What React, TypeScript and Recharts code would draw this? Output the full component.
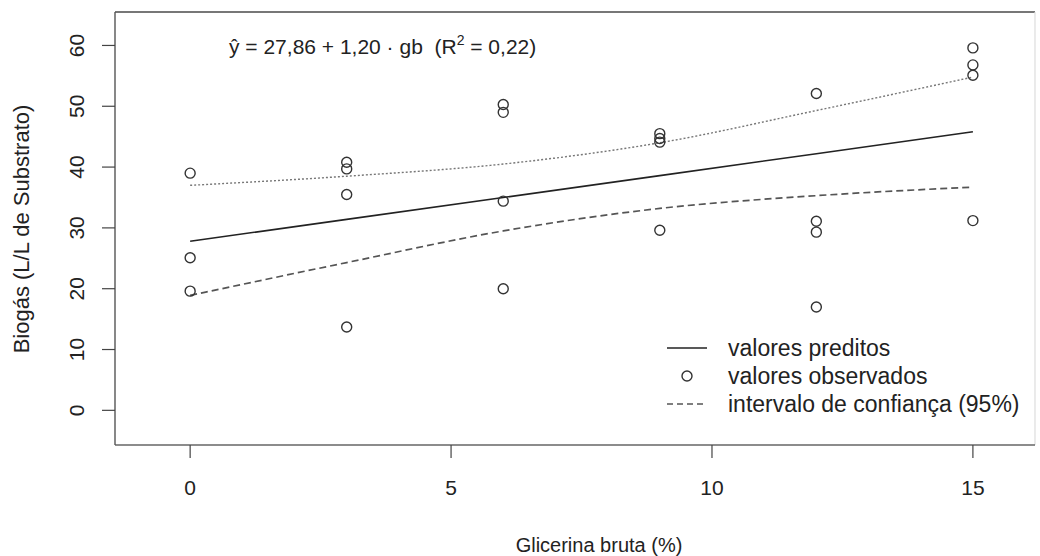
import React from 'react';
import {
  ComposedChart,
  Line,
  Scatter,
  XAxis,
  YAxis,
  ReferenceLine,
  Legend,
} from 'recharts';

// ---- data ----
const xLevels = [0, 3, 6, 9, 12, 15];
const predicted = [27.8, 31.4, 35.0, 38.6, 42.2, 45.8];
const upperCI = [37.0, 38.5, 40.5, 44.0, 49.3, 54.8];
const lowerCI = [18.9, 24.3, 29.5, 33.2, 35.3, 36.7];

const obsX = [0, 0, 0, 3, 3, 3, 3, 6, 6, 6, 6, 9, 9, 9, 9, 12, 12, 12, 12, 15, 15, 15, 15];
const obsY = [39.0, 25.1, 19.6, 40.8, 39.7, 35.5, 13.7, 50.3, 49.0, 34.4, 20.0, 45.5, 44.7, 44.1, 29.6, 52.1, 31.1, 29.3, 17.0, 59.6, 56.8, 55.1, 31.2];

const xTicks = [0, 5, 10, 15];
const yTicks = [0, 10, 20, 30, 40, 50, 60];
const xDomain = [-1.44, 16.19];
const yDomain = [-5.7, 65.5];

const legendLabels = ['valores preditos', 'valores observados', 'intervalo de confiança (95%)'];
const xLabel = 'Glicerina bruta (%)';
const yLabel = 'Biogás (L/L de Substrato)';

const predData = xLevels.map((x, i) => ({ x, y: predicted[i] }));
const upperData = xLevels.map((x, i) => ({ x, y: upperCI[i] }));
const lowerData = xLevels.map((x, i) => ({ x, y: lowerCI[i] }));
const obsData = obsX.map((x, i) => ({ x, y: obsY[i] }));

const FONT = '"Liberation Sans", Arial, Helvetica, sans-serif';
const TEXT = '#222';

const YTick = (props: any) => {
  const { x, y, payload } = props;
  return (
    <text
      x={x}
      y={y}
      transform={`rotate(-90 ${x} ${y})`}
      textAnchor="middle"
      fontSize={21}
      fill={TEXT}
      fontFamily={FONT}
    >
      {payload.value}
    </text>
  );
};

const Circle = (props: any) => {
  const { cx, cy } = props;
  if (cx == null || cy == null) return null;
  return <circle cx={cx} cy={cy} r={5} fill="none" stroke="#333" strokeWidth={1.4} />;
};

const LegendContent = () => (
  <div style={{ fontFamily: FONT, fontSize: 23, color: TEXT }}>
    {legendLabels.map((lab, i) => (
      <div key={lab} style={{ display: 'flex', alignItems: 'center', height: 28, lineHeight: '28px' }}>
        <svg width={40} height={28} style={{ flex: 'none' }}>
          {i === 0 && <line x1={0} x2={40} y1={14} y2={14} stroke="#222" strokeWidth={1.5} />}
          {i === 1 && <circle cx={20} cy={14} r={5} fill="none" stroke="#333" strokeWidth={1.4} />}
          {i === 2 && (
            <line x1={0} x2={40} y1={14} y2={14} stroke="#555" strokeWidth={1.6} strokeDasharray="6 4" />
          )}
        </svg>
        <span style={{ marginLeft: 21, whiteSpace: 'nowrap' }}>{lab}</span>
      </div>
    ))}
  </div>
);

export default function App() {
  return (
    <div style={{ position: 'absolute', left: 0, top: 0, width: 1040, height: 556, background: '#fff' }}>
      <ComposedChart
        width={1040}
        height={556}
        margin={{ top: 12, right: 5, left: 0, bottom: 0 }}
      >
        <XAxis
          type="number"
          dataKey="x"
          domain={xDomain}
          ticks={xTicks}
          allowDataOverflow
          height={111}
          tickSize={13}
          tickMargin={22}
          axisLine={{ stroke: '#666', strokeWidth: 1.6 }}
          tickLine={{ stroke: '#444', strokeWidth: 1.2 }}
          tick={{ fontSize: 21, fill: TEXT, fontFamily: FONT }}
        />
        <YAxis
          type="number"
          dataKey="y"
          domain={yDomain}
          ticks={yTicks}
          allowDataOverflow
          width={115}
          tickSize={13}
          tickMargin={18}
          axisLine={{ stroke: '#555', strokeWidth: 1.4 }}
          tickLine={{ stroke: '#444', strokeWidth: 1.2 }}
          tick={<YTick />}
        />
        <ReferenceLine y={yDomain[1]} stroke="#777" strokeWidth={1.8} ifOverflow="visible" />
        <ReferenceLine x={xDomain[1]} stroke="#ddd" strokeWidth={1.2} ifOverflow="visible" />
        <Line
          data={upperData}
          dataKey="y"
          type="monotone"
          stroke="#777"
          strokeWidth={1.4}
          strokeDasharray="2 2"
          dot={false}
          activeDot={false}
          isAnimationActive={false}
        />
        <Line
          data={lowerData}
          dataKey="y"
          type="monotone"
          stroke="#555"
          strokeWidth={1.7}
          strokeDasharray="7 4"
          dot={false}
          activeDot={false}
          isAnimationActive={false}
        />
        <Line
          data={predData}
          dataKey="y"
          type="linear"
          stroke="#222"
          strokeWidth={1.6}
          dot={false}
          activeDot={false}
          isAnimationActive={false}
        />
        <Scatter data={obsData} dataKey="y" shape={<Circle />} isAnimationActive={false} />
        <Legend
          layout="horizontal"
          verticalAlign="middle"
          align="center"
          content={<LegendContent />}
          wrapperStyle={{ left: 667, top: 334, width: 373, height: 84 }}
        />
      </ComposedChart>

      {/* regression formula */}
      <div
        style={{
          position: 'absolute',
          left: 229,
          top: 35,
          fontFamily: FONT,
          fontSize: 21,
          lineHeight: '24px',
          color: TEXT,
          whiteSpace: 'nowrap',
        }}
      >
        ŷ = 27,86 + 1,20 · gb&nbsp;&nbsp;(R
        <span style={{ fontSize: 14, position: 'relative', top: -9 }}>2</span> = 0,22)
      </div>

      {/* x axis title */}
      <div
        style={{
          position: 'absolute',
          left: 599,
          top: 545,
          transform: 'translate(-50%, -50%)',
          fontFamily: FONT,
          fontSize: 20,
          lineHeight: '24px',
          color: TEXT,
          whiteSpace: 'nowrap',
        }}
      >
        {xLabel}
      </div>

      {/* y axis title */}
      <div
        style={{
          position: 'absolute',
          left: 22,
          top: 229,
          transform: 'translate(-50%, -50%) rotate(-90deg)',
          fontFamily: FONT,
          fontSize: 22,
          lineHeight: '26px',
          color: TEXT,
          whiteSpace: 'nowrap',
        }}
      >
        {yLabel}
      </div>
    </div>
  );
}
